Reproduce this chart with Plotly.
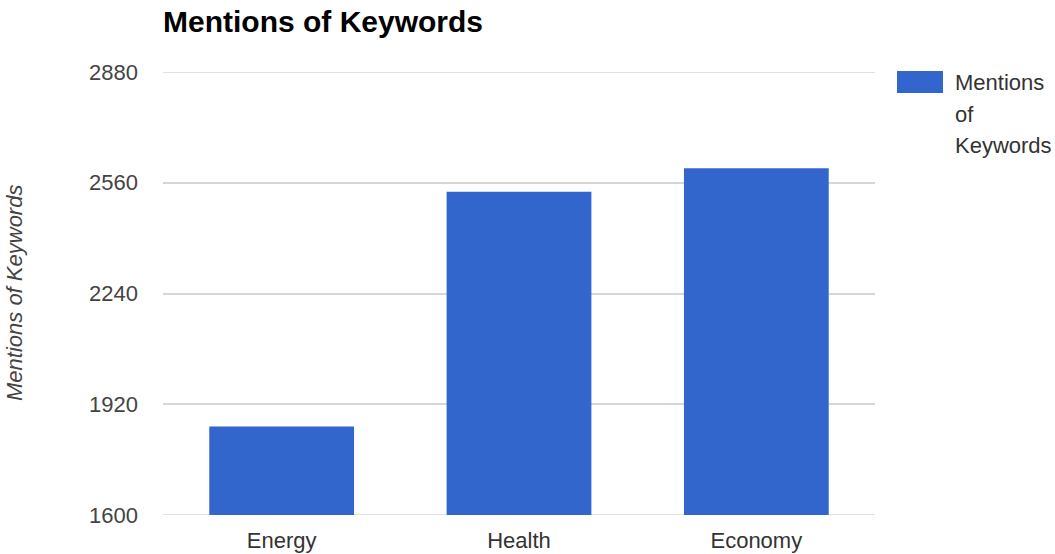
import plotly.graph_objects as go

# Keyword mention counts
categories = ["Energy", "Health", "Economy"]
mentions = [1856, 2534, 2602]
series_name = "Mentions of Keywords"
y_ticks = [1600, 1920, 2240, 2560, 2880]
legend_lines = ["Mentions", "of", "Keywords"]

BLUE = "#3366CC"
GRID = "#d6d6d6"
FONT = "Arial, Liberation Sans, sans-serif"

W, H = 1055, 554
L, R, T, B = 163, 180, 72, 39
plot_w = W - L - R
plot_h = H - T - B


def px_x(px):
    return (px - L) / plot_w


def px_y(py):
    return (H - B - py) / plot_h


fig = go.Figure(
    go.Bar(
        x=categories,
        y=mentions,
        name=series_name,
        marker=dict(color=BLUE, line=dict(width=0)),
        showlegend=False,
    )
)

fig.update_layout(
    width=W,
    height=H,
    margin=dict(l=L, r=R, t=T, b=B, autoexpand=False),
    paper_bgcolor="white",
    plot_bgcolor="white",
    bargap=0.39,
    font=dict(family=FONT, size=22, color="#444444"),
    title=dict(
        text="<b>" + series_name + "</b>",
        x=L / W,
        xanchor="left",
        y=1 - 21 / H,
        yanchor="middle",
        font=dict(family=FONT, size=30, color="#000000"),
    ),
    xaxis=dict(
        showgrid=False,
        showline=False,
        zeroline=False,
        ticks="",
        ticklabelstandoff=10,
        tickfont=dict(size=22, color="#333333"),
    ),
    yaxis=dict(
        range=[1600, 2880],
        tickvals=y_ticks,
        ticktext=[str(v) for v in y_ticks],
        showgrid=True,
        gridcolor=GRID,
        gridwidth=1.5,
        zeroline=False,
        showline=False,
        ticks="",
        ticklabelstandoff=24,
        tickfont=dict(size=22, color="#444444"),
    ),
)

# Grid lines at the ends of the value range (bottom one sits behind the bars)
for v in (y_ticks[0], y_ticks[-1]):
    fig.add_shape(
        type="line",
        xref="paper",
        yref="y",
        x0=0,
        x1=1,
        y0=v,
        y1=v,
        line=dict(color=GRID, width=1.5),
        layer="below",
    )

# Vertical axis title
fig.add_annotation(
    text="<i>" + series_name + "</i>",
    xref="paper",
    yref="paper",
    x=px_x(14),
    y=px_y(293),
    xanchor="center",
    yanchor="middle",
    textangle=-90,
    showarrow=False,
    font=dict(family=FONT, size=22, color="#444444"),
)

# Legend: swatch plus wrapped series name
fig.add_shape(
    type="rect",
    xref="paper",
    yref="paper",
    x0=px_x(897),
    x1=px_x(943),
    y0=px_y(93),
    y1=px_y(71),
    fillcolor=BLUE,
    line=dict(width=0),
)
for i, line in enumerate(legend_lines):
    fig.add_annotation(
        text=line,
        xref="paper",
        yref="paper",
        x=px_x(953),
        y=px_y(83 + 31 * i),
        xanchor="left",
        yanchor="middle",
        align="left",
        showarrow=False,
        font=dict(family=FONT, size=22, color="#333333"),
    )

fig.write_html("out.html")
